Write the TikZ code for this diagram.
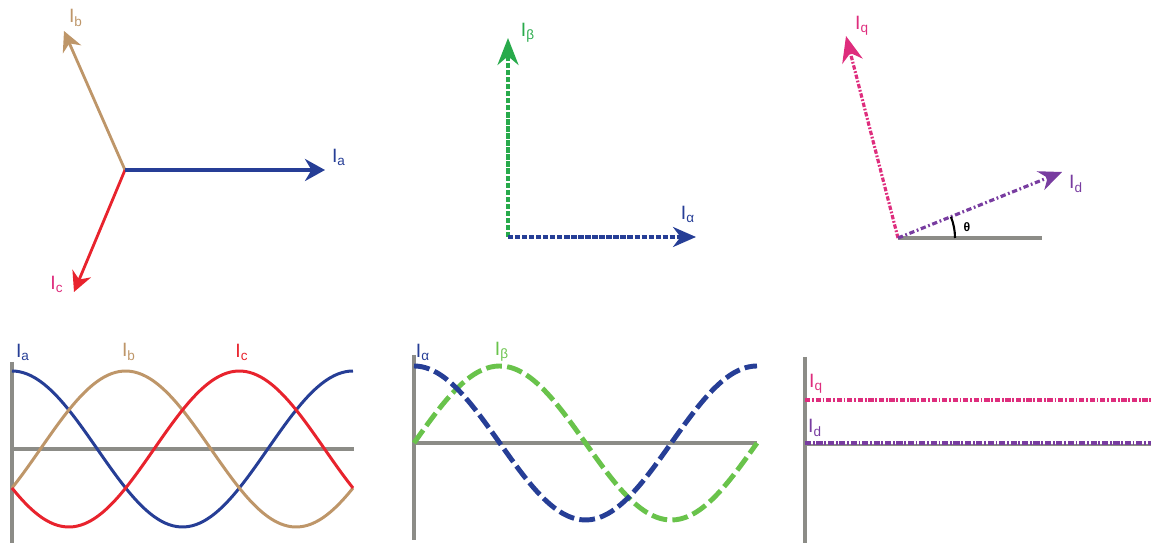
\documentclass[tikz,border=0pt]{standalone}
\usepackage{fontspec}
\setmainfont{Liberation Sans}
\definecolor{PhaseA}{RGB}{38,62,150}
\definecolor{PhaseB}{RGB}{190,150,105}
\definecolor{PhaseC}{RGB}{232,35,45}
\definecolor{BetaGreen}{RGB}{40,170,75}
\definecolor{BetaLight}{RGB}{105,195,75}
\definecolor{QPink}{RGB}{222,45,125}
\definecolor{DPurple}{RGB}{120,60,160}
\definecolor{AxisGray}{RGB}{140,140,135}
\usetikzlibrary{arrows.meta}

\begin{document}
\begin{tikzpicture}[x=0.02cm,y=-0.02cm,
        lbl/.style={font=\fontsize{11}{13}\selectfont,inner sep=0pt},
        vec/.style={-{Stealth[length=4.6mm,width=4mm]},line width=1.6pt},
        axis/.style={AxisGray,line width=1.8pt},
        wave/.style={line width=1.7pt,smooth,samples=90},
        dwave/.style={line width=2.8pt,smooth,samples=90,dash pattern=on 9pt off 3pt}]
        \useasboundingbox (0,0) rectangle (1151,546);

        % abc phasors
        \coordinate (o1) at (125,170);
        \coordinate (a1) at (325,170);
        \coordinate (b1) at (64,31);
        \coordinate (c1) at (74,292);
        \draw[vec,PhaseB,-{Stealth[length=4mm,width=4mm]}] (o1) -- (b1);
        \draw[vec,PhaseC,-{Stealth[length=4mm,width=4mm]}] (o1) -- (c1);
        \draw[vec,PhaseA,line width=2.8pt,-{Stealth[length=4mm,width=4.4mm]}] (o1) -- (a1);
        \node[lbl,text=PhaseA] (la1) at (339,157) {I\textsubscript{a}};
        \node[lbl,text=PhaseB] (lb1) at (76,18) {I\textsubscript{b}};
        \node[lbl,text=QPink]  (lc1) at (57,284) {I\textsubscript{c}};

        % alpha-beta
        \coordinate (o2) at (508,237);
        \coordinate (al2) at (696,237);
        \coordinate (be2) at (508,38);
        \draw[vec,BetaGreen,line width=2pt,dash pattern=on 3pt off 1pt,-{Stealth[length=5.4mm,width=4.2mm]}] (o2) -- (be2);
        \draw[vec,PhaseA,line width=2pt,dash pattern=on 3pt off 1pt] (o2) -- (al2);
        \node[lbl,text=PhaseA]    (lal2) at (688,214) {I\textsubscript{α}};
        \node[lbl,text=BetaGreen] (lbe2) at (528,33) {I\textsubscript{β}};

        % dq
        \coordinate (o3) at (898,238);
        \coordinate (x3) at (1042,238);
        \coordinate (d3) at (1062,172);
        \coordinate (q3) at (846,36);
        \draw[axis,line width=2pt] (o3) -- (x3);
        \draw[vec,QPink,line width=1.8pt,dash pattern=on 2.5pt off 1pt on 1pt off 1pt,-{Stealth[length=5.2mm,width=4.2mm]}] (o3) -- (q3);
        \draw[vec,DPurple,line width=1.8pt,dash pattern=on 3pt off 1.5pt on 1pt off 1.5pt] (o3) -- (d3);
        \draw[line width=1.2pt] (o3) ++(57,0) arc[start angle=0,end angle=-21.9,radius=57];
        \node[font=\fontsize{7}{8}\selectfont\bfseries,inner sep=0pt] (th3) at (967,227) {θ};
        \node[lbl,text=QPink]   (lq3) at (862,26) {I\textsubscript{q}};
        \node[lbl,text=DPurple] (ld3) at (1076,184) {I\textsubscript{d}};

        % abc waveforms
        \coordinate (v4a) at (12,362);
        \coordinate (v4b) at (12,543);
        \coordinate (h4a) at (12,449);
        \coordinate (h4b) at (354,449);
        \draw[axis] (v4a) -- (v4b);
        \draw[axis] (h4a) -- (h4b);
        \draw[wave,PhaseA] plot[domain=0:360] ({12+\x/360*341},{449-78*cos(\x)});
        \draw[wave,PhaseB] plot[domain=0:360] ({12+\x/360*341},{449-78*cos(\x-120)});
        \draw[wave,PhaseC] plot[domain=0:360] ({12+\x/360*341},{449-78*cos(\x-240)});
        \node[lbl,text=PhaseA] (la4) at (23,352) {I\textsubscript{a}};
        \node[lbl,text=PhaseB] (lb4) at (129,352) {I\textsubscript{b}};
        \node[lbl,text=PhaseC] (lc4) at (242,352) {I\textsubscript{c}};

        % alpha-beta waveforms
        \coordinate (v5a) at (414,355);
        \coordinate (v5b) at (414,540);
        \coordinate (h5a) at (414,443);
        \coordinate (h5b) at (757,443);
        \draw[axis] (v5a) -- (v5b);
        \draw[axis] (h5a) -- (h5b);
        \draw[dwave,BetaLight] plot[domain=0:360] ({414+\x/360*343},{443-77*sin(\x)});
        \draw[dwave,PhaseA] plot[domain=0:360] ({414+\x/360*343},{443-77*cos(\x)});
        \node[lbl,text=PhaseA]    (lal5) at (423,352) {I\textsubscript{α}};
        \node[lbl,text=BetaLight] (lbe5) at (502,352) {I\textsubscript{β}};

        % dq waveforms
        \coordinate (v6a) at (805,357);
        \coordinate (v6b) at (805,543);
        \coordinate (q6a) at (805,400);
        \coordinate (q6b) at (1151,400);
        \coordinate (d6a) at (805,443);
        \coordinate (d6b) at (1151,443);
        \draw[axis] (v6a) -- (v6b);
        \draw[axis,line width=1.4pt] ([yshift=-1.2pt]d6a) -- ([yshift=-1.2pt]d6b);
        \draw[QPink,line width=2pt,dash pattern=on 3pt off 1pt on 1pt off 1pt] (q6a) -- (q6b);
        \draw[DPurple,line width=2pt,dash pattern=on 3.5pt off 1pt on 1pt off 1pt] (d6a) -- (d6b);
        \node[lbl,text=QPink]   (lq6) at (816,384) {I\textsubscript{q}};
        \node[lbl,text=DPurple] (ld6) at (815,428) {I\textsubscript{d}};
\end{tikzpicture}
\end{document}
